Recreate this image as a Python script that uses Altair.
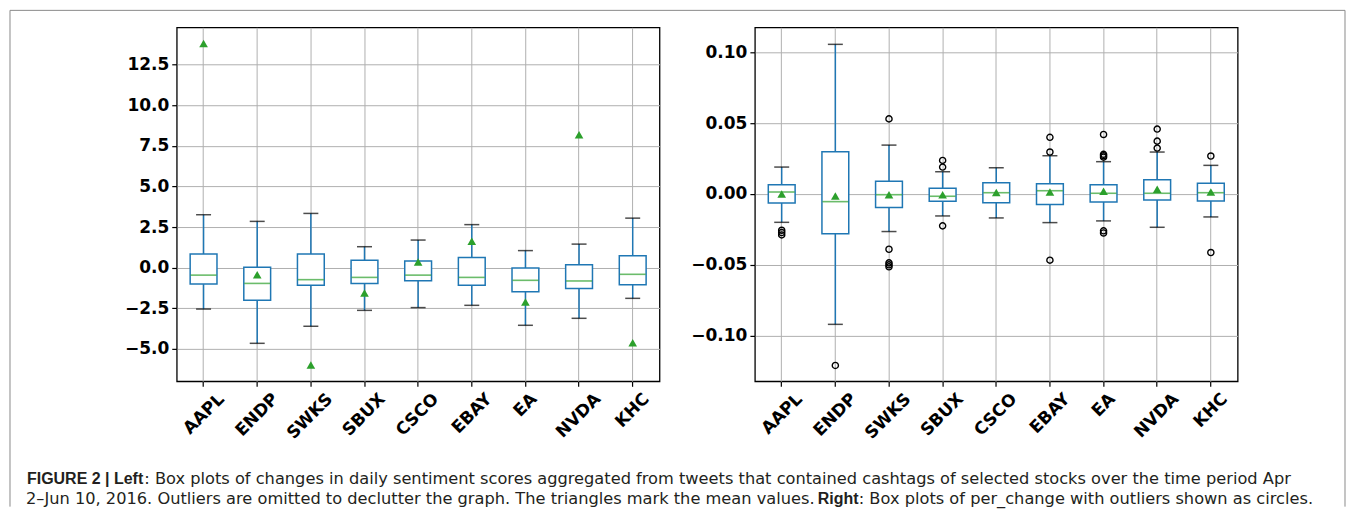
import altair as alt
import pandas as pd

names = ["AAPL", "ENDP", "SWKS", "SBUX", "CSCO", "EBAY", "EA", "NVDA", "KHC"]

# Left panel: sentiment-score changes (outliers omitted)
l_lo = [-2.55, -4.66, -3.61, -2.63, -2.46, -2.32, -3.55, -3.12, -1.89]
l_q1 = [-1.01, -2.00, -1.09, -0.97, -0.80, -1.09, -1.48, -1.29, -1.05]
l_med = [-0.46, -0.97, -0.74, -0.60, -0.46, -0.60, -0.78, -0.82, -0.41]
l_q3 = [0.84, 0.02, 0.84, 0.45, 0.41, 0.63, -0.02, 0.18, 0.74]
l_hi = [3.26, 2.85, 3.34, 1.29, 1.70, 2.65, 1.05, 1.45, 3.05]
l_mean = [13.8, -0.43, -6.0, -1.56, 0.35, 1.62, -2.12, 8.19, -4.62]

# Right panel: per_change
r_lo = [-0.020, -0.092, -0.0265, -0.0155, -0.0169, -0.0202, -0.019, -0.0235, -0.0162]
r_q1 = [-0.0063, -0.028, -0.0096, -0.0052, -0.0061, -0.0075, -0.0056, -0.0042, -0.0049]
r_med = [0.0014, -0.0054, -0.0005, -0.0016, 0.0009, 0.0023, 0.0005, 0.0005, 0.0009]
r_q3 = [0.0066, 0.0298, 0.009, 0.004, 0.008, 0.0073, 0.0066, 0.0101, 0.0075]
r_hi = [0.019, 0.1056, 0.0345, 0.0157, 0.0185, 0.027, 0.0228, 0.0296, 0.0202]
r_mean = [0.0, -0.0014, -0.0005, -0.0005, 0.001, 0.0014, 0.002, 0.0033, 0.0014]

r_out_name = ["AAPL", "AAPL", "AAPL", "ENDP",
              "SWKS", "SWKS", "SWKS", "SWKS", "SWKS",
              "SBUX", "SBUX", "SBUX",
              "EBAY", "EBAY", "EBAY",
              "EA", "EA", "EA", "EA", "EA", "EA",
              "NVDA", "NVDA", "NVDA",
              "KHC", "KHC"]
r_out_val = [-0.0256, -0.0272, -0.0289, -0.121,
             0.053, -0.039, -0.0486, -0.050, -0.0514,
             0.0237, 0.019, -0.0225,
             0.040, 0.0296, -0.0467,
             0.042, 0.028, 0.027, 0.026, -0.026, -0.0275,
             0.0458, 0.0373, 0.0324,
             0.0268, -0.0413]

left_ticks = [-5.0, -2.5, 0.0, 2.5, 5.0, 7.5, 10.0, 12.5]
right_ticks = [-0.10, -0.05, 0.0, 0.05, 0.10]

BLUE = "#1f77b4"
GREEN = "#2ca02c"
FONT = "DejaVu Sans"

# per-label shift so that rotated labels are centred on their tick like matplotlib
label_shift = {"AAPL": 12.3, "ENDP": 12.8, "SWKS": 13.5, "SBUX": 12.4, "CSCO": 12.2,
               "EBAY": 11.7, "EA": 3.2, "NVDA": 13.2, "KHC": 8.3}
offset_cond = {
    "condition": [{"test": f"datum.value === '{k}'", "value": v} for k, v in label_shift.items()],
    "value": 12,
}


def panel(lo, q1, med, q3, hi, mean, domain, ticks, fmt, out_name=None, out_val=None):
    df = pd.DataFrame({"name": names, "lo": lo, "q1": q1, "med": med,
                       "q3": q3, "hi": hi, "mean": mean})
    x = alt.X("name:N", sort=names, title=None,
              scale=alt.Scale(paddingInner=0, paddingOuter=0),
              axis=alt.Axis(labelAngle=315, labelAlign="right", labelBaseline="top",
                            labelPadding=4, bandPosition=0.5, labelOffset=offset_cond,
                            grid=True))
    ysc = alt.Scale(domain=domain, nice=False, zero=False)
    yax = alt.Axis(values=ticks, format=fmt, labelPadding=3, grid=True)

    def Y(f):
        return alt.Y(f"{f}:Q", scale=ysc, axis=yax, title=None)

    base = alt.Chart(df)
    w_lo = base.mark_rule(color=BLUE, strokeWidth=1.5).encode(x=x, y=Y("lo"), y2="q1:Q")
    w_hi = base.mark_rule(color=BLUE, strokeWidth=1.5).encode(x=x, y=Y("q3"), y2="hi:Q")
    box = base.mark_bar(width=alt.RelativeBandSize(0.5), fill="white", stroke=BLUE,
                        strokeWidth=1.5).encode(x=x, y=Y("q1"), y2="q3:Q")
    median = base.mark_tick(color=GREEN, size=26, thickness=1.6).encode(x=x, y=Y("med"))
    cap_lo = base.mark_tick(color="black", size=15, thickness=1.5).encode(x=x, y=Y("lo"))
    cap_hi = base.mark_tick(color="black", size=15, thickness=1.5).encode(x=x, y=Y("hi"))
    mn = base.mark_point(shape="triangle-up", filled=True, color=GREEN, size=75,
                         opacity=1).encode(x=x, y=Y("mean"))
    layers = [w_lo, w_hi, box, median, cap_lo, cap_hi, mn]
    if out_name is not None:
        odf = pd.DataFrame({"name": out_name, "val": out_val})
        outl = alt.Chart(odf).mark_point(shape="circle", filled=False, color="black",
                                         size=38, strokeWidth=1.4, opacity=1).encode(
            x=x, y=Y("val"))
        layers.append(outl)
    return layers


one = pd.DataFrame({"k": [0]})
dec = alt.Chart(one)
BORDER = "#8a8a8a"
frame = [
    dec.mark_rule(color=BORDER, strokeWidth=1).encode(x=alt.value(-167), y=alt.value(-17), y2=alt.value(480)),
    dec.mark_rule(color=BORDER, strokeWidth=1).encode(x=alt.value(1170), y=alt.value(-17), y2=alt.value(480)),
    dec.mark_rule(color=BORDER, strokeWidth=1).encode(x=alt.value(-167), x2=alt.value(1170), y=alt.value(-17)),
]

CAP_COLOR = "#231f20"


def txt(s, xpx, ypx, bold=False, align="left"):
    return dec.mark_text(font="Liberation Sans" if bold else "DejaVu Sans",
                         fontSize=16 if bold else 16.25,
                         fontWeight="bold" if bold else "normal",
                         color=CAP_COLOR, align=align, baseline="alphabetic").encode(
        x=alt.value(xpx), y=alt.value(ypx), text=alt.value(s))


caption = [
    txt("FIGURE 2 | Left", -150, 457, bold=True),
    txt(": Box plots of changes in daily sentiment scores aggregated from tweets that contained "
        "cashtags of selected stocks over the time period Apr", -32.5, 457),
    txt("2\u2013Jun 10, 2016. Outliers are omitted to declutter the graph. The triangles mark the "
        "mean values.", -151, 477),
    txt("Right", 642, 477, bold=True),
    txt(": Box plots of per_change with outliers shown as circles.", 683, 477),
]

left = alt.layer(*(frame + panel(l_lo, l_q1, l_med, l_q3, l_hi, l_mean, [-7.0, 14.8],
                                 left_ticks, ".1f") + caption)).properties(width=483.5, height=354.5)
right = alt.layer(*panel(r_lo, r_q1, r_med, r_q3, r_hi, r_mean, [-0.1322, 0.1176],
                         right_ticks, ".2f", r_out_name, r_out_val)).properties(width=483.5, height=354.5)

chart = alt.hconcat(left, right, spacing=95, bounds="flush").properties(padding=0).configure_view(
    stroke="black", strokeWidth=1.3
).configure_axis(
    gridColor="#b0b0b0", gridWidth=1, tickColor="black", tickWidth=1.2, tickSize=5,
    labelFont=FONT, labelFontWeight="bold", labelFontSize=17, labelColor="black", domain=False
)

chart.save("out.html", embed_options={"renderer": "svg", "actions": False})
